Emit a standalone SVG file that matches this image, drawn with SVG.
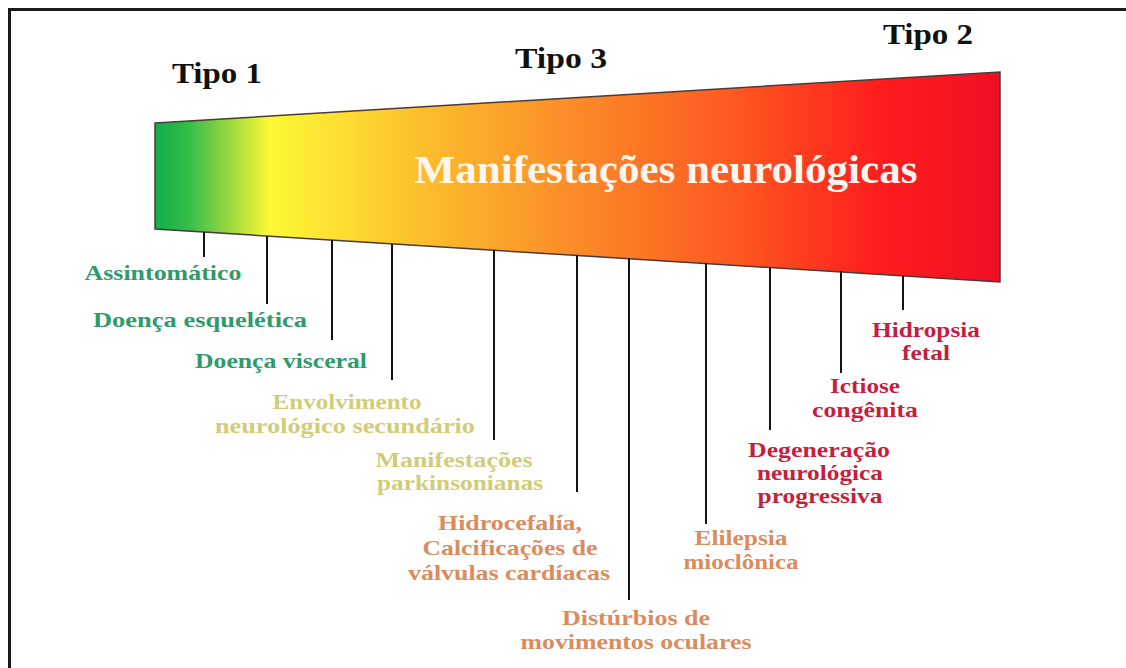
<svg xmlns="http://www.w3.org/2000/svg" width="1126" height="668" viewBox="0 0 1126 668">
  <defs>
    <linearGradient id="spectrum" x1="155" y1="0" x2="1000" y2="0" gradientUnits="userSpaceOnUse">
      <stop offset="0" stop-color="#0fae4a"/>
      <stop offset="0.04" stop-color="#35bd48"/>
      <stop offset="0.09" stop-color="#9ed83e"/>
      <stop offset="0.135" stop-color="#fbf935"/>
      <stop offset="0.2" stop-color="#fde433"/>
      <stop offset="0.32" stop-color="#fcbd2c"/>
      <stop offset="0.5" stop-color="#fb8a28"/>
      <stop offset="0.7" stop-color="#fe5420"/>
      <stop offset="0.86" stop-color="#ff1c1e"/>
      <stop offset="1" stop-color="#ee1024"/>
    </linearGradient>
    <style>
      .tipo { font-family: "Liberation Serif", "Times New Roman", serif; font-weight: bold; font-size: 30px; fill: #111; text-anchor: middle; }
      .title { font-family: "Liberation Serif", "Times New Roman", serif; font-weight: bold; font-size: 40px; fill: #fdf6ee; text-anchor: middle; }
      .lbl { font-family: "Liberation Serif", "Times New Roman", serif; font-weight: bold; font-size: 21px; text-anchor: middle; }
      .green { fill: #2f9a6c; }
      .khaki { fill: #d2cc78; }
      .salmon { fill: #d98c60; }
      .crimson { fill: #c41f3e; }
      .tick { stroke: #141414; stroke-width: 2; fill: none; }
      .frame { stroke: #1a1a1a; stroke-width: 3; fill: none; }
    </style>
  </defs>

  <rect width="1126" height="668" fill="#ffffff"/>

  <!-- page frame (top and left edges) -->
  <path class="frame" d="M9.5 668 V9.5 H1126"/>

  <!-- colour band -->
  <g id="band">
    <polygon points="155,123 1000,72 1000,282 155,229" fill="url(#spectrum)" stroke="#4a3a3a" stroke-width="1.5"/>
    <text class="title" x="666" y="183" textLength="503" lengthAdjust="spacingAndGlyphs">Manifestações neurológicas</text>
  </g>

  <g id="tipo1"><text class="tipo" x="217" y="83" textLength="90" lengthAdjust="spacingAndGlyphs">Tipo 1</text></g>
  <g id="tipo3"><text class="tipo" x="561" y="68" textLength="92" lengthAdjust="spacingAndGlyphs">Tipo 3</text></g>
  <g id="tipo2"><text class="tipo" x="928" y="44" textLength="90" lengthAdjust="spacingAndGlyphs">Tipo 2</text></g>

  <!-- ticks from the band down to each label -->
  <g id="connectors">
    <line class="tick" x1="204" y1="232" x2="204" y2="257"/>
    <line class="tick" x1="267" y1="236" x2="267" y2="304"/>
    <line class="tick" x1="332" y1="240" x2="332" y2="340"/>
    <line class="tick" x1="392" y1="244" x2="392" y2="380"/>
    <line class="tick" x1="494" y1="250" x2="494" y2="440"/>
    <line class="tick" x1="577" y1="255" x2="577" y2="492"/>
    <line class="tick" x1="629" y1="258" x2="629" y2="600"/>
    <line class="tick" x1="706" y1="263" x2="706" y2="524"/>
    <line class="tick" x1="770" y1="267" x2="770" y2="430"/>
    <line class="tick" x1="841" y1="271" x2="841" y2="373"/>
    <line class="tick" x1="903" y1="275" x2="903" y2="310"/>
  </g>

  <g id="assintomatico"><text class="lbl green" x="163" y="280" textLength="157" lengthAdjust="spacingAndGlyphs">Assintomático</text></g>
  <g id="doenca-esqueletica"><text class="lbl green" x="200" y="327" textLength="214" lengthAdjust="spacingAndGlyphs">Doença esquelética</text></g>
  <g id="doenca-visceral"><text class="lbl green" x="281" y="368" textLength="172" lengthAdjust="spacingAndGlyphs">Doença visceral</text></g>
  <g id="envolvimento">
    <text class="lbl khaki" x="347" y="409" textLength="149" lengthAdjust="spacingAndGlyphs">Envolvimento</text>
    <text class="lbl khaki" x="345" y="433" textLength="260" lengthAdjust="spacingAndGlyphs">neurológico secundário</text>
  </g>
  <g id="parkinsonianas">
    <text class="lbl khaki" x="454" y="467" textLength="157" lengthAdjust="spacingAndGlyphs">Manifestações</text>
    <text class="lbl khaki" x="460" y="490" textLength="166" lengthAdjust="spacingAndGlyphs">parkinsonianas</text>
  </g>
  <g id="hidrocefalia">
    <text class="lbl salmon" x="510" y="530" textLength="144" lengthAdjust="spacingAndGlyphs">Hidrocefalía,</text>
    <text class="lbl salmon" x="510" y="555" textLength="175" lengthAdjust="spacingAndGlyphs">Calcificações de</text>
    <text class="lbl salmon" x="509" y="580" textLength="202" lengthAdjust="spacingAndGlyphs">válvulas cardíacas</text>
  </g>
  <g id="disturbios">
    <text class="lbl salmon" x="636" y="625" textLength="148" lengthAdjust="spacingAndGlyphs">Distúrbios de</text>
    <text class="lbl salmon" x="636" y="649" textLength="231" lengthAdjust="spacingAndGlyphs">movimentos oculares</text>
  </g>
  <g id="epilepsia">
    <text class="lbl salmon" x="741" y="545" textLength="93" lengthAdjust="spacingAndGlyphs">Elilepsia</text>
    <text class="lbl salmon" x="741" y="569" textLength="115" lengthAdjust="spacingAndGlyphs">mioclônica</text>
  </g>
  <g id="degeneracao">
    <text class="lbl crimson" x="819" y="457" textLength="142" lengthAdjust="spacingAndGlyphs">Degeneração</text>
    <text class="lbl crimson" x="820" y="480" textLength="126" lengthAdjust="spacingAndGlyphs">neurológica</text>
    <text class="lbl crimson" x="820" y="503" textLength="125" lengthAdjust="spacingAndGlyphs">progressiva</text>
  </g>
  <g id="ictiose">
    <text class="lbl crimson" x="865" y="393" textLength="70" lengthAdjust="spacingAndGlyphs">Ictiose</text>
    <text class="lbl crimson" x="865" y="417" textLength="106" lengthAdjust="spacingAndGlyphs">congênita</text>
  </g>
  <g id="hidropsia">
    <text class="lbl crimson" x="926" y="337" textLength="108" lengthAdjust="spacingAndGlyphs">Hidropsia</text>
    <text class="lbl crimson" x="926" y="360" textLength="48" lengthAdjust="spacingAndGlyphs">fetal</text>
  </g>
</svg>
